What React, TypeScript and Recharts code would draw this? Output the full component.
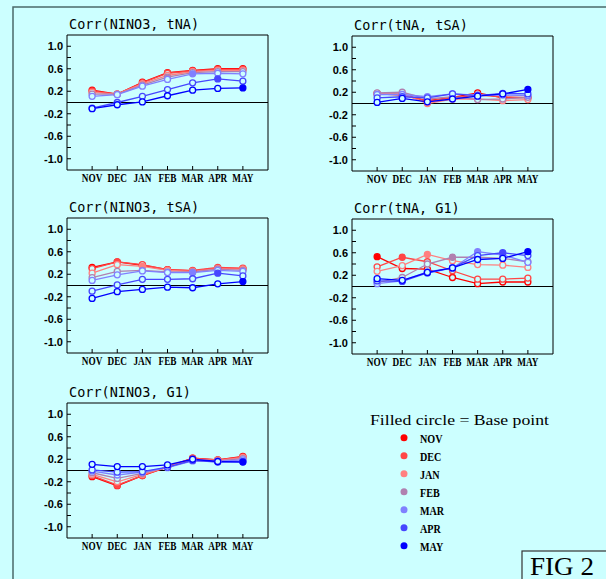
import React from 'react';
import { LineChart, Line, XAxis, YAxis, ReferenceLine } from 'recharts';

const months = ['NOV', 'DEC', 'JAN', 'FEB', 'MAR', 'APR', 'MAY'];
const colors = ['#ff0000', '#ff4646', '#ff8080', '#b080b0', '#8080ff', '#4646ff', '#0000ff'];
const yTicks = [-1, -0.8, -0.6, -0.4, -0.2, 0, 0.2, 0.4, 0.6, 0.8, 1];
const xTicks = [0, 1, 2, 3, 4, 5, 6];

// one row per base month (NOV..MAY), values at NOV..MAY
const nino3Tna = [
  [0.22, 0.15, 0.36, 0.53, 0.57, 0.6, 0.6],
  [0.2, 0.15, 0.35, 0.52, 0.56, 0.59, 0.59],
  [0.18, 0.15, 0.33, 0.48, 0.55, 0.57, 0.57],
  [0.15, 0.15, 0.31, 0.45, 0.53, 0.55, 0.55],
  [0.11, 0.14, 0.29, 0.41, 0.51, 0.52, 0.51],
  [-0.1, 0.0, 0.11, 0.23, 0.35, 0.42, 0.38],
  [-0.11, -0.04, 0.01, 0.12, 0.22, 0.25, 0.26],
];

const tnaTsa = [
  [0.17, 0.15, 0.05, 0.11, 0.19, 0.1, 0.11],
  [0.18, 0.16, 0.04, 0.1, 0.15, 0.12, 0.1],
  [0.18, 0.17, 0.0, 0.08, 0.08, 0.05, 0.07],
  [0.19, 0.2, 0.08, 0.12, 0.07, 0.08, 0.11],
  [0.16, 0.16, 0.12, 0.17, 0.15, 0.15, 0.14],
  [0.1, 0.12, 0.1, 0.17, 0.14, 0.18, 0.17],
  [0.02, 0.09, 0.03, 0.08, 0.13, 0.17, 0.25],
];

const nino3Tsa = [
  [0.32, 0.42, 0.36, 0.28, 0.26, 0.31, 0.3],
  [0.3, 0.42, 0.37, 0.28, 0.27, 0.32, 0.31],
  [0.22, 0.37, 0.34, 0.27, 0.25, 0.3, 0.29],
  [0.14, 0.25, 0.27, 0.24, 0.24, 0.29, 0.27],
  [0.09, 0.19, 0.26, 0.23, 0.23, 0.27, 0.25],
  [-0.1, 0.01, 0.11, 0.11, 0.12, 0.22, 0.17],
  [-0.23, -0.11, -0.07, -0.03, -0.04, 0.03, 0.07],
];

const tnaG1 = [
  [0.53, 0.32, 0.31, 0.16, 0.05, 0.08, 0.08],
  [0.35, 0.52, 0.44, 0.28, 0.13, 0.13, 0.15],
  [0.27, 0.37, 0.57, 0.46, 0.39, 0.38, 0.34],
  [0.07, 0.16, 0.4, 0.52, 0.52, 0.5, 0.44],
  [0.05, 0.1, 0.26, 0.33, 0.62, 0.56, 0.43],
  [0.1, 0.09, 0.24, 0.33, 0.55, 0.6, 0.55],
  [0.14, 0.11, 0.25, 0.33, 0.48, 0.5, 0.62],
];

const nino3G1 = [
  [-0.11, -0.27, -0.09, 0.06, 0.22, 0.19, 0.25],
  [-0.09, -0.26, -0.09, 0.07, 0.22, 0.19, 0.24],
  [-0.07, -0.2, -0.07, 0.06, 0.2, 0.18, 0.23],
  [-0.04, -0.14, -0.05, 0.06, 0.18, 0.17, 0.21],
  [-0.01, -0.08, -0.03, 0.05, 0.17, 0.16, 0.19],
  [0.01, -0.03, -0.02, 0.06, 0.18, 0.15, 0.16],
  [0.11, 0.07, 0.07, 0.1, 0.2, 0.16, 0.15],
];

const BG = '#ccffff';

const panels = [
  { title: 'Corr(NINO3, tNA)', values: nino3Tna, left: 67, top: 35 },
  { title: 'Corr(tNA, tSA)', values: tnaTsa, left: 352, top: 36 },
  { title: 'Corr(NINO3, tSA)', values: nino3Tsa, left: 67, top: 218 },
  { title: 'Corr(tNA, G1)', values: tnaG1, left: 352, top: 219 },
  { title: 'Corr(NINO3, G1)', values: nino3G1, left: 67, top: 403 },
];

const toRows = (values: number[][]) =>
  months.map((m, i) => {
    const row: any = { x: i };
    months.forEach((b, j) => { row[b] = values[j][i]; });
    return row;
  });

const YTick = ({ x, y, payload }: any) => {
  const v = payload.value;
  const major = (Math.round(v * 10) - 2) % 4 === 0;
  return (
    <g>
      <line x1={x} x2={x + 4} y1={y} y2={y} stroke="#000" />
      {major && (
        <text x={x - 4} y={y + 4} textAnchor="end" fontFamily="Liberation Sans" fontWeight="bold" fontSize={11} fill="#000">
          {v.toFixed(1)}
        </text>
      )}
    </g>
  );
};

const XTick = ({ x, y, payload }: any) => (
  <g>
    <line x1={x} x2={x} y1={y} y2={y - 4} stroke="#000" />
    <text transform={`translate(${x},${y + 11.5}) scale(0.74,1)`} textAnchor="middle" fontFamily="Liberation Serif" fontWeight="bold" fontSize={12.5} fill="#000">
      {months[payload.value]}
    </text>
  </g>
);

const makeDot = (base: number, color: string) => (props: any) => {
  const { cx, cy, index } = props;
  return (
    <circle key={`d-${index}`} cx={cx} cy={cy} r={3} fill={index === base ? color : BG} stroke={color} strokeWidth={1.3} />
  );
};

const Panel = ({ values, left, top }: any) => {
  const rows = toRows(values);
  return (
    <div style={{ position: 'absolute', left: left - 40, top: top - 25 }}>
      <LineChart width={251} height={185} data={rows} margin={{ top: 25, right: 10, bottom: 0, left: 0 }}>
        <XAxis dataKey="x" type="number" domain={[-1, 7]} ticks={xTicks} interval={0} height={25}
          tickSize={0} tickMargin={0} tickLine={false} tick={<XTick />} stroke="#000" />
        <YAxis type="number" domain={[-1.2, 1.2]} ticks={yTicks} interval={0} width={40} allowDataOverflow
          tickSize={0} tickMargin={0} tickLine={false} tick={<YTick />} stroke="#000" />
        <ReferenceLine y={1.2} stroke="#000" strokeWidth={1} />
        <ReferenceLine x={7} stroke="#000" strokeWidth={1} />
        <ReferenceLine y={0} stroke="#000" strokeWidth={1} />
        {months.map((m, j) => (
          <Line key={m} dataKey={m} stroke={colors[j]} strokeWidth={1.3} dot={makeDot(j, colors[j])}
            isAnimationActive={false} />
        ))}
      </LineChart>
    </div>
  );
};

export default function App() {
  return (
    <div style={{ position: 'absolute', left: 0, top: 0, width: 606, height: 579, background: BG, overflow: 'hidden' }}>
      <svg width={606} height={579} style={{ position: 'absolute', left: 0, top: 0 }}>
        <rect x={13} y={7} width={620} height={600} fill="none" stroke="#4a6a6a" strokeWidth={1.5} />
        {panels.map((p) => (
          <text key={p.title} x={p.left + 2} y={p.top - 6} fontFamily="DejaVu Sans Mono" fontSize={13.5} fill="#000">
            {p.title}
          </text>
        ))}
        <text x={370} y={425} fontFamily="Liberation Serif" fontSize={15} textLength={179} lengthAdjust="spacingAndGlyphs" fill="#000">
          Filled circle = Base point
        </text>
        {months.map((m, j) => (
          <g key={m}>
            <circle cx={404} cy={437.7 + j * 18} r={3.5} fill={colors[j]} />
            <text transform={`translate(420,${442.5 + j * 18}) scale(0.75,1)`} fontFamily="Liberation Serif" fontWeight="bold" fontSize={13.5} fill="#000">
              {m}
            </text>
          </g>
        ))}
        <rect x={522} y={551} width={100} height={40} fill="none" stroke="#333" strokeWidth={1.2} />
        <text x={530} y={575} fontFamily="Liberation Serif" fontSize={25} textLength={64} lengthAdjust="spacingAndGlyphs" fill="#000">
          FIG 2
        </text>
      </svg>
      {panels.map((p) => (
        <Panel key={p.title} values={p.values} left={p.left} top={p.top} />
      ))}
    </div>
  );
}
